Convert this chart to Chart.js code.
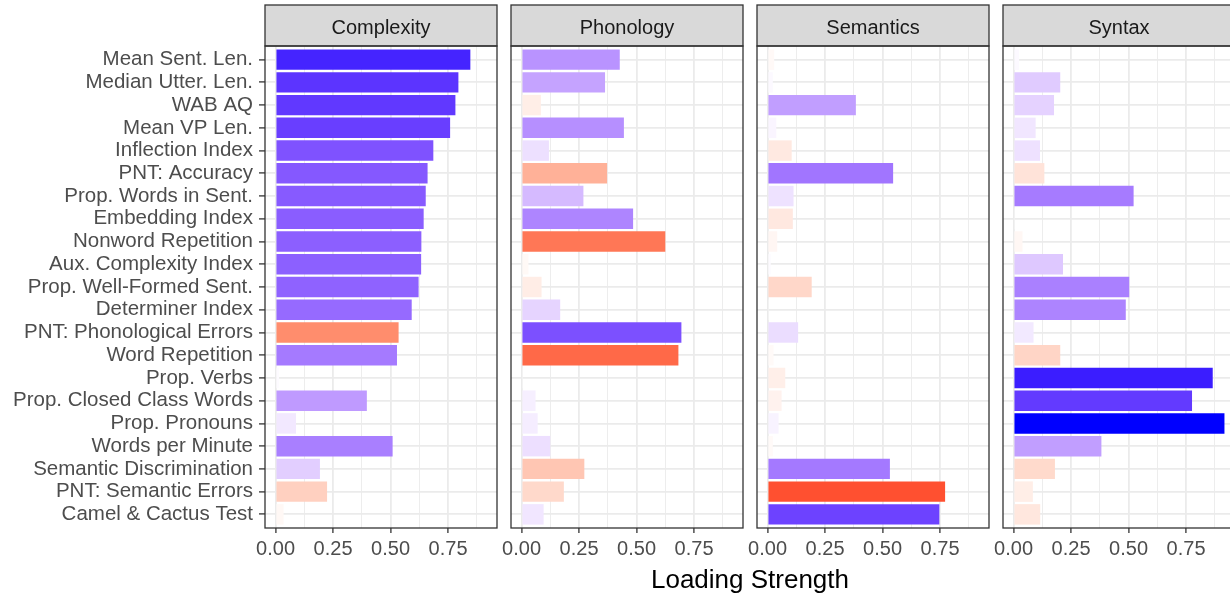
<!DOCTYPE html>
<html>
<head>
<meta charset="utf-8">
<script src="https://cdn.jsdelivr.net/npm/chart.js@4.4.0/dist/chart.umd.min.js"></script>
<style>
  html, body { margin: 0; padding: 0; background: #fff; overflow: hidden; }
  #wrap { position: relative; width: 1230px; height: 596px; overflow: hidden; }
  #wrap canvas { position: absolute; left: 0; top: 0; }
  #xtitle { position: absolute; left: 0; width: 1500px; top: 566px; text-align: center;
            font: 26px 'Liberation Sans', Arial, sans-serif; line-height: 26px; color: #000; }
</style>
</head>
<body>
<div id="wrap">
  <canvas id="c0" width="1260" height="596"></canvas>
  <canvas id="c1" width="1260" height="596"></canvas>
  <canvas id="c2" width="1260" height="596"></canvas>
  <canvas id="c3" width="1260" height="596"></canvas>
  <div id="xtitle">Loading Strength</div>
</div>
<script>
const categories = ['Mean Sent. Len.', 'Median Utter. Len.', 'WAB AQ', 'Mean VP Len.', 'Inflection Index',
  'PNT: Accuracy', 'Prop. Words in Sent.', 'Embedding Index', 'Nonword Repetition', 'Aux. Complexity Index',
  'Prop. Well-Formed Sent.', 'Determiner Index', 'PNT: Phonological Errors', 'Word Repetition', 'Prop. Verbs',
  'Prop. Closed Class Words', 'Prop. Pronouns', 'Words per Minute', 'Semantic Discrimination',
  'PNT: Semantic Errors', 'Camel & Cactus Test'];
const panelNames = ['Complexity', 'Phonology', 'Semantics', 'Syntax'];

// signed loadings (positive = blue, negative = red), bar length = |loading|
const complexity = [0.847, 0.795, 0.782, 0.759, 0.686, 0.661, 0.653, 0.644, 0.634, 0.633, 0.622,
  0.592, -0.535, 0.528, 0.015, 0.397, 0.089, 0.509, 0.193, -0.224, -0.035];
const phonology = [0.427, 0.363, -0.084, 0.445, 0.119, -0.372, 0.269, 0.485, -0.625, -0.030, -0.087,
  0.168, 0.695, -0.682, 0.005, 0.061, 0.070, 0.125, -0.273, -0.184, 0.096];
const semantics = [-0.029, 0.023, 0.384, 0.038, -0.105, 0.546, 0.113, -0.110, -0.042, 0.014, -0.192,
  0.005, 0.133, -0.026, -0.077, -0.061, 0.048, -0.023, 0.532, -0.772, 0.747];
const syntax = [0.024, 0.203, 0.176, 0.096, 0.115, -0.134, 0.522, 0.003, -0.039, 0.215, 0.503,
  0.488, 0.087, -0.203, 0.866, 0.776, 0.917, 0.382, -0.180, -0.084, -0.116];

const majorTicks = [0, 0.25, 0.5, 0.75];
const minorTicks = [0.125, 0.375, 0.625, 0.875];

const series = [complexity, phonology, semantics, syntax];

// page layout
const W = 1260, H = 596;
const FIRST_LEFT = 265, PANEL_W = 232, PANEL_STEP = 246;
const TOP = 46, BOTTOM = 528, X_AXIS_H = 40;

Chart.defaults.font.family = "'Liberation Sans', Arial, sans-serif";

// red - white - blue gradient, mixed in Lab like ggplot's gradient2
function toLab(rgb) {
  const lin = rgb.map(c => { c /= 255; return c <= 0.04045 ? c / 12.92 : Math.pow((c + 0.055) / 1.055, 2.4); });
  const x = (0.4124 * lin[0] + 0.3576 * lin[1] + 0.1805 * lin[2]) / 0.95047;
  const y = (0.2126 * lin[0] + 0.7152 * lin[1] + 0.0722 * lin[2]);
  const z = (0.0193 * lin[0] + 0.1192 * lin[1] + 0.9505 * lin[2]) / 1.08883;
  const f = t => t > 0.008856 ? Math.cbrt(t) : 7.787 * t + 16 / 116;
  return [116 * f(y) - 16, 500 * (f(x) - f(y)), 200 * (f(y) - f(z))];
}
function fromLab([L, a, b]) {
  const fy = (L + 16) / 116, fx = fy + a / 500, fz = fy - b / 200;
  const inv = t => t * t * t > 0.008856 ? t * t * t : (t - 16 / 116) / 7.787;
  const x = inv(fx) * 0.95047, y = inv(fy), z = inv(fz) * 1.08883;
  const lin = [
    3.2406 * x - 1.5372 * y - 0.4986 * z,
    -0.9689 * x + 1.8758 * y + 0.0415 * z,
    0.0557 * x - 0.2040 * y + 1.0570 * z
  ];
  return lin.map(c => {
    c = c <= 0.0031308 ? 12.92 * c : 1.055 * Math.pow(c, 1 / 2.4) - 0.055;
    return Math.round(Math.min(1, Math.max(0, c)) * 255);
  });
}
const white = toLab([255, 255, 255]), blue = toLab([0, 0, 255]), red = toLab([255, 0, 0]);
const maxAbs = Math.max(...series.flat().map(Math.abs));
function fillFor(v) {
  const t = Math.min(Math.abs(v) / maxAbs, 1);
  const end = v >= 0 ? blue : red;
  const [r, g, b] = fromLab(white.map((w, k) => w + (end[k] - w) * t));
  return `rgb(${r},${g},${b})`;
}

// facet strip + panel border, drawn over the bars like theme_bw
const facetFrame = {
  id: 'facetFrame',
  afterDraw(chart, args, opts) {
    const { ctx, chartArea: a } = chart;
    ctx.save();
    ctx.lineWidth = 1.3;
    ctx.strokeStyle = '#333333';
    ctx.fillStyle = '#D9D9D9';
    ctx.fillRect(a.left, 5, a.right - a.left, a.top - 5);
    ctx.strokeRect(a.left, 5, a.right - a.left, a.top - 5);
    ctx.fillStyle = '#1A1A1A';
    ctx.font = "20px 'Liberation Sans', Arial, sans-serif";
    ctx.textAlign = 'center';
    ctx.textBaseline = 'alphabetic';
    ctx.fillText(opts.text, (a.left + a.right) / 2, 34);
    ctx.strokeRect(a.left, a.top, a.right - a.left, a.bottom - a.top);
    ctx.restore();
  }
};

const rowIdx = categories.map((c, k) => k);

series.forEach((vals, i) => {
  const left = FIRST_LEFT + i * PANEL_STEP;
  const right = left + PANEL_W;
  new Chart(document.getElementById('c' + i), {
    type: 'bar',
    data: {
      datasets: [{
        data: vals.map((v, k) => ({ x: Math.abs(v), y: rowIdx[k] })),
        backgroundColor: vals.map(fillFor),
        borderWidth: 0,
        barPercentage: 0.9,
        categoryPercentage: 1
      }]
    },
    options: {
      indexAxis: 'y',
      responsive: false,
      animation: false,
      layout: { padding: { left: i === 0 ? 0 : left, right: W - right, top: TOP, bottom: H - BOTTOM - X_AXIS_H } },
      plugins: {
        legend: { display: false },
        tooltip: { enabled: false },
        facetFrame: { text: panelNames[i] }
      },
      scales: {
        x: {
          type: 'linear',
          min: -maxAbs * 0.05,
          max: maxAbs * 1.05,
          afterBuildTicks: s => { s.ticks = [...majorTicks, ...minorTicks].sort((p, q) => p - q).map(v => ({ value: v })); },
          afterFit: s => { s.height = X_AXIS_H; },
          border: { display: false },
          grid: {
            color: '#EBEBEB',
            lineWidth: c => majorTicks.includes(c.tick.value) ? 1.8 : 0.9,
            tickColor: c => majorTicks.includes(c.tick.value) ? '#333333' : 'rgba(0,0,0,0)',
            tickLength: 5,
            tickWidth: 1.3
          },
          ticks: {
            autoSkip: false,
            maxRotation: 0,
            padding: 4,
            color: '#4D4D4D',
            font: { size: 20 },
            callback: v => majorTicks.includes(v) ? v.toFixed(2) : ''
          }
        },
        y: {
          type: 'linear',
          reverse: true,
          offset: false,
          min: -0.6,
          max: categories.length - 0.4,
          afterBuildTicks: s => { s.ticks = rowIdx.map(v => ({ value: v })); },
          afterFit: s => { s.width = i === 0 ? left : 0; },
          border: { display: false },
          grid: {
            offset: false,
            color: '#EBEBEB',
            lineWidth: 1.8,
            drawTicks: i === 0,
            tickColor: '#333333',
            tickLength: 6,
            tickWidth: 1.3
          },
          ticks: {
            display: i === 0,
            autoSkip: false,
            padding: 6,
            color: '#4D4D4D',
            font: { size: 20.5 },
            callback: v => categories[v]
          }
        }
      }
    },
    plugins: [facetFrame]
  });
});
</script>
</body>
</html>
